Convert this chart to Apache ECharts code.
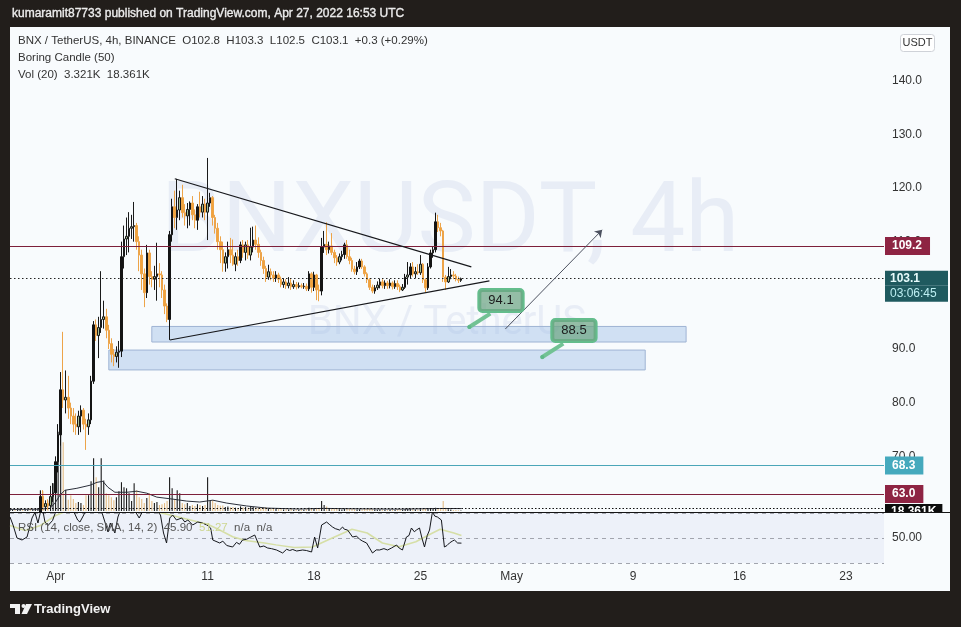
<!DOCTYPE html>
<html><head><meta charset="utf-8">
<script src="https://cdn.jsdelivr.net/npm/echarts/dist/echarts.min.js"></script>
<style>html,body{margin:0;padding:0;background:#221e1b;}#c{width:961px;height:627px;}</style>
</head><body><div id="c"></div>
<script>
// ---- time base: day number, Apr 1 = 1; candles every 4h ----
const firstDay = -2;
const candleStep = 1 / 6;
const tickDays = [1, 11, 18, 25, 31, 39, 46, 53];
const tickLabels = ['Apr', '11', '18', '25', 'May', '9', '16', '23'];
const priceTicks = [70, 80, 90, 100, 110, 120, 130, 140];

const opens = [
56.5,56.8,57.0,56.6,57.1,57.6,57.3,57.9,58.2,57.8,58.3,58.6,
59.0,62.5,60.6,61.2,60.8,62.5,63.2,69.0,74.0,82.4,
80.5,81.0,79.0,77.5,76.0,75.5,77.5,78.6,76.0,75.5,
76.8,84.0,94.5,92.5,94.0,95.5,96.0,93.5,91.0,89.0,
88.6,89.4,89.6,107.2,110.5,111.0,112.5,112.8,113.0,110.0,
107.5,104.0,100.5,107.9,103.5,103.0,103.5,104.0,103.8,101.0,
98.0,95.5,111.3,116.5,114.5,115.9,118.2,115.4,114.8,116.0,
117.2,115.0,114.0,116.5,115.5,117.0,115.5,117.2,118.2,114.5,
112.5,110.0,108.5,106.0,107.2,108.5,107.5,105.8,107.2,106.5,
109.4,108.0,109.4,107.5,109.0,110.3,109.5,108.0,106.5,105.0,
103.4,104.4,103.8,103.2,103.8,103.0,102.0,102.5,101.8,102.3,
101.6,102.0,101.6,101.8,101.6,101.7,101.2,104.0,101.5,103.8,
101.0,100.8,109.0,109.5,108.5,109.2,108.0,107.0,106.2,107.2,
107.6,109.4,107.2,106.5,104.9,104.4,105.3,106.4,105.3,104.0,
102.9,101.5,100.8,101.4,101.9,102.5,101.8,102.3,101.8,102.3,
101.6,102.2,101.6,101.0,101.5,103.4,103.8,105.3,104.0,104.4,
104.2,105.8,102.9,101.4,105.3,107.9,108.5,113.7,112.6,112.0,
103.4,102.5,103.5,103.8,103.6,103.0,102.8];
const highs = [
57.2,57.5,57.6,57.3,58.0,58.2,58.1,58.6,58.8,58.5,59.0,59.2,
63.5,63.7,61.8,62.0,64.5,65.0,70.0,76.0,85.7,93.2,
86.0,85.0,80.0,79.0,78.0,78.5,79.5,79.0,77.0,78.0,
85.0,95.2,95.5,96.0,104.5,99.0,97.5,94.5,92.0,90.0,
90.5,91.5,110.0,113.0,114.5,115.5,115.0,117.4,113.5,111.0,
108.5,105.0,109.4,108.5,104.5,105.5,109.8,106.0,104.5,102.0,
98.5,112.0,118.0,119.5,121.7,119.5,120.6,117.0,117.2,117.5,
118.5,116.0,117.0,119.3,118.5,118.0,125.6,119.1,118.5,115.0,
113.5,111.0,110.0,108.0,110.0,110.7,110.4,108.0,108.5,110.0,
110.3,110.0,110.3,112.6,112.8,113.0,110.8,108.5,107.2,105.5,
105.7,105.0,104.5,104.5,104.2,103.5,103.2,103.0,103.4,103.0,
102.8,102.5,102.4,102.2,102.3,102.2,104.5,104.3,104.4,104.0,
102.0,110.7,112.0,113.6,110.0,111.6,108.5,107.5,107.8,108.3,
109.8,110.3,108.5,107.0,105.5,106.2,106.8,106.8,105.6,104.3,
103.2,102.0,101.9,102.6,103.1,103.0,102.8,102.7,103.0,102.6,
102.8,102.8,102.0,102.1,104.0,106.2,106.0,106.2,105.3,105.8,
107.5,106.0,103.2,106.0,108.5,109.0,115.4,115.0,113.5,112.2,
103.8,105.3,104.9,104.5,104.0,103.5,103.3];
const lows = [
55.8,56.2,56.4,56.0,56.8,57.0,56.9,57.4,57.6,57.2,57.9,58.0,
58.8,60.0,59.9,60.0,60.5,61.5,62.8,67.0,72.0,79.0,
78.0,77.0,76.0,74.5,74.0,74.0,74.5,75.0,71.2,74.0,
76.0,83.5,91.5,88.3,93.0,93.8,92.0,90.0,87.5,86.8,
87.5,86.5,88.5,105.0,107.5,108.0,110.5,110.0,108.5,104.5,
101.0,97.8,99.5,102.0,101.5,101.0,99.0,101.5,99.5,96.5,
95.0,91.7,110.0,112.5,112.2,114.0,114.5,113.0,112.5,113.0,
114.0,112.5,112.2,114.5,114.5,114.0,110.3,116.5,113.0,111.5,
108.5,106.0,104.4,104.4,105.0,106.0,105.5,104.5,105.5,106.0,
107.0,106.5,106.8,106.5,108.0,108.5,107.0,105.5,104.0,102.5,
102.9,102.8,102.5,102.5,102.3,101.5,101.4,101.2,101.3,101.0,
101.2,101.1,101.3,101.3,101.2,100.8,100.8,100.5,100.8,99.1,
98.9,100.0,107.9,107.5,107.8,107.5,106.0,105.5,105.8,106.5,
106.8,106.8,105.8,104.4,103.9,103.8,104.9,104.9,103.5,102.3,
101.0,100.4,100.3,101.0,101.3,101.3,101.2,101.2,101.3,101.1,
101.2,101.0,100.6,100.8,101.2,102.0,103.2,103.5,103.2,103.8,
103.8,102.3,100.6,101.0,105.0,107.0,108.0,111.8,111.0,102.5,
101.0,102.3,103.0,103.0,102.6,102.3,102.5];
const closes = [
56.8,57.0,56.6,57.1,57.6,57.3,57.9,58.2,57.8,58.3,58.6,58.9,
62.5,60.6,61.2,60.8,62.5,63.2,69.0,74.0,82.4,80.5,
81.0,79.0,77.5,76.0,75.5,77.5,78.6,76.0,75.5,76.8,
84.0,94.5,92.5,94.0,95.5,96.0,93.5,91.0,89.0,88.6,
89.4,89.6,107.2,110.5,111.0,112.5,112.8,113.0,110.0,107.5,
104.0,100.5,107.9,103.5,103.0,103.5,104.0,103.8,101.0,98.0,
95.5,111.3,116.5,114.5,115.9,118.2,115.4,114.8,116.0,117.2,
115.0,114.0,116.5,115.5,117.0,115.5,117.2,118.2,114.5,112.5,
110.0,108.5,106.0,107.2,108.5,107.5,105.8,107.2,106.5,109.4,
108.0,109.4,107.5,109.0,110.3,109.5,108.0,106.5,105.0,103.4,
104.4,103.8,103.2,103.8,103.0,102.0,102.5,101.8,102.3,101.6,
102.0,101.6,101.8,101.6,101.7,101.2,104.0,101.5,103.8,101.0,
100.8,109.0,109.5,108.5,109.2,108.0,107.0,106.2,107.2,107.6,
109.4,107.2,106.5,104.9,104.4,105.3,106.4,105.3,104.0,102.9,
101.5,100.8,101.4,101.9,102.5,101.8,102.3,101.8,102.3,101.6,
102.2,101.6,101.0,101.5,103.4,103.8,105.3,104.0,104.4,104.2,
105.8,102.9,101.4,105.3,107.9,108.5,113.7,112.6,112.0,103.4,
102.5,103.5,103.8,103.6,103.0,102.8,103.1];
// volume in thousands
const volumesK = [
12,8,15,10,18,9,14,11,20,13,16,22,
157,150,45,80,100,210,370,600,680,520,
160,85,120,90,60,68,60,45,120,120,
225,400,255,180,400,232,135,120,105,82,
105,150,218,180,172,135,75,210,158,105,
90,60,98,135,75,60,68,45,52,60,
75,255,172,90,158,135,60,52,60,38,
45,38,52,45,38,45,255,75,82,60,
45,40,42,30,35,28,30,25,22,35,
28,30,25,38,30,26,22,25,28,30,
20,18,15,17,14,18,12,14,12,15,
10,12,9,11,10,14,25,20,22,24,
18,75,45,35,20,22,18,15,14,12,
18,16,14,18,12,11,13,12,15,16,
18,14,12,10,11,9,10,8,9,10,
8,11,12,9,15,18,16,12,11,10,
14,16,18,20,22,15,25,20,18,75,
25,14,12,8,7,6,3.321];
// Volume MA(20): [day, K]
const volMA = [[-2,12],[0,14],[0.63,20],[0.96,60],[1.29,120],[1.61,157],[2.4,172],[3.26,195],[3.72,217],[4.11,225],[4.44,180],[4.9,142],[5.69,142],[6.34,150],[7.0,135],[7.66,105],[8.71,90],[9.63,75],[10.48,68],[11.34,82],[12.26,60],[13.57,38],[14.89,22],[17.05,15],[18.6,20],[20.34,17],[23.62,14],[26.25,19],[27.7,18.361]];
// RSI(14): [day, value]
const rsiPts = [[-2.0,66.8],[-1.8,60.4],[-1.54,50],[-1.21,48.4],[-0.88,50.8],[-0.55,66],[-0.36,70.5],[-0.16,62],[0.1,76],[0.3,62.8],[0.5,60],[0.8,64],[1.5,88],[2.2,71],[2.45,64.4],[2.6,62.8],[2.85,68.4],[3.2,80],[3.7,82],[4.1,68.4],[4.45,54.8],[4.6,62],[4.9,54],[5.1,66.8],[5.5,80],[6.1,74],[6.3,70],[6.5,66],[6.75,72],[7.4,76],[7.9,68.4],[8.1,54],[8.3,46],[8.51,66],[8.7,68.4],[8.95,64.4],[9.3,66],[9.5,62.8],[9.7,64.4],[10.02,60.4],[10.35,62.8],[10.65,62],[10.96,60.4],[11.2,58],[11.34,48.4],[11.8,46],[12.0,47.5],[12.26,44],[12.65,42.8],[12.9,46.5],[13.1,45],[13.3,48.4],[13.57,49],[13.8,50.5],[14.1,52.4],[14.43,42.8],[14.7,43.6],[14.95,42],[15.2,41.5],[15.54,40.4],[15.94,38],[16.2,41],[16.4,40],[16.6,40.8],[16.86,39.6],[17.25,40.4],[17.5,40],[17.84,38.8],[18.04,50.8],[18.24,42],[18.5,60.4],[18.83,62.8],[19.0,61],[19.22,58.8],[19.4,57.5],[19.68,56.4],[19.88,58.8],[20.0,57],[20.21,56.4],[20.54,50.8],[20.8,51.5],[21.0,49],[21.2,47.5],[21.46,46],[21.85,38],[22.1,40.5],[22.31,40.4],[22.6,41.5],[22.84,40.4],[23.1,42],[23.43,44.4],[23.6,42],[23.82,40.4],[24.08,50.8],[24.25,52],[24.41,58],[24.6,55],[24.74,56.4],[24.94,58],[25.1,50],[25.27,42.8],[25.45,52],[25.6,56.4],[25.79,70.8],[25.95,67.5],[26.12,66.8],[26.38,64.4],[26.58,42.8],[26.75,44],[26.91,46],[27.1,47.5],[27.24,48.4],[27.45,46],[27.7,45.9]];
const rsiSma = [[-2,60],[-1,56],[0,60],[1,68],[2,73],[3,74],[4,73],[5,71],[6,71],[7,72],[8,70],[9,67],[10,64],[11,61],[11.7,57],[12.65,51],[13.5,48],[14.75,46],[15.5,44.5],[16.7,42.4],[17.9,42.8],[19.2,50],[20.5,57],[21.5,54],[22.5,46],[23.6,43],[24.7,47],[25.8,54],[26.3,57],[26.9,55],[27.2,54],[27.7,52]];

// drawings (day, price)
const levels = {resist: 109.2, last: 103.1, sup1: 68.3, sup2: 63.0, volMA: 18.361};
const triUpper = [[8.84, 121.72], [28.35, 105.30]];
const triLower = [[8.51, 91.68], [29.54, 102.69]];
const arrowPts = [[30.59, 93.73], [36.96, 112.2]];
const zone1 = [[7.33, 94.2], [42.48, 91.3]];
const zone2 = [[4.50, 89.8], [39.79, 86.1]];
const callouts = [
  {label: '94.1', at: [28.22, 94.1], tail: [29.6, 96.6]},
  {label: '88.5', at: [33.02, 88.5], tail: [34.4, 91.0]}
];

const FONT = '"Liberation Sans", Arial, sans-serif';
const BG = '#f8fbfd';

const candleData = opens.map((o, k) => {
  const c = closes[k], h = highs[k], l = lows[k];
  const item = {value: [firstDay + k * candleStep, o, c, l, h]};
  if (c > o && (c - o) <= 0.5 * (h - l)) {
    item.itemStyle = {color: '#a5bf95', borderColor: '#1a1a1a'};
  }
  return item;
});
const volData = volumesK.map((v, k) => ({
  value: [firstDay + k * candleStep, v],
  itemStyle: {color: closes[k] >= opens[k] ? '#1b1b1b' : '#e5bd86'}
}));

const tagLabel = (txt, bg) => ({
  show: true, position: 'end', distance: 1, formatter: txt,
  backgroundColor: bg, color: '#ffffff', fontWeight: 'bold', fontSize: 12,
  fontFamily: FONT, padding: [3, 8, 2, 7], lineHeight: 13
});
const trendStyle = {color: '#17181c', width: 1.2, type: 'solid'};
const arrowStyle = {color: '#4d5260', width: 1, type: 'solid'};
const tailStyle = {color: '#72c294', width: 4, type: 'solid', cap: 'butt'};
const calloutFill = 'rgba(110,165,132,0.72)';

const xBase = {
  type: 'value', min: -2, max: 55.5, interval: 1,
  axisLine: {show: false}, axisTick: {show: false}, splitLine: {show: false}
};

const option = {
  animation: false,
  backgroundColor: '#221e1b',
  textStyle: {fontFamily: FONT},
  grid: [
    {left: 10, right: 77, top: 27, height: 483, outerBoundsMode: 'none'},
    {left: 10, right: 77, top: 412, height: 99, outerBoundsMode: 'none'},
    {left: 10, right: 77, top: 513, height: 50, outerBoundsMode: 'none'}
  ],
  xAxis: [
    Object.assign({}, xBase, {gridIndex: 0, axisLabel: {show: false}}),
    Object.assign({}, xBase, {gridIndex: 1, axisLabel: {show: false}}),
    Object.assign({}, xBase, {gridIndex: 2, z: 21, axisLabel: {
      show: true, color: '#333', fontSize: 12, margin: 8, hideOverlap: false,
      showMinLabel: true, showMaxLabel: true,
      formatter: (v) => {
        const d = Math.round(v);
        if (Math.abs(v - d) > 1e-6) return '';
        const i = tickDays.indexOf(d);
        return i >= 0 ? tickLabels[i] : '';
      }
    }})
  ],
  yAxis: [
    {gridIndex: 0, type: 'value', position: 'right', min: 60, max: 150, interval: 10,
     axisLine: {show: false}, axisTick: {show: false}, splitLine: {show: false},
     axisLabel: {color: '#333', fontSize: 12, margin: 8, hideOverlap: false,
       formatter: (v) => priceTicks.indexOf(Math.round(v)) >= 0 && Math.abs(v - Math.round(v)) < 1e-6 ? v.toFixed(1) : ''}},
    {gridIndex: 1, type: 'value', min: 0, max: 750, show: false,
     axisLine: {show: false}, axisTick: {show: false}, splitLine: {show: false}, axisLabel: {show: false}},
    {gridIndex: 2, type: 'value', position: 'right', min: 30, max: 70, interval: 10, z: 21,
     axisLine: {show: false}, axisTick: {show: false}, splitLine: {show: false},
     axisLabel: {color: '#333', fontSize: 12, margin: 8, hideOverlap: false,
       formatter: (v) => Math.abs(v - 50) < 1e-6 ? '50.00' : ''}}
  ],
  series: [
    {
      type: 'candlestick', name: 'BNX', xAxisIndex: 0, yAxisIndex: 0, z: 3, clip: true,
      barWidth: 2,
      encode: {x: 0, y: [1, 2, 3, 4]},
      itemStyle: {color: '#141414', color0: '#f2a33b', borderColor: '#141414', borderColor0: '#eda449', borderWidth: 1},
      data: candleData,
      markArea: {
        silent: true, z: 1,
        itemStyle: {color: 'rgba(160,190,230,0.45)', borderColor: '#9fb4d4', borderWidth: 1},
        data: [
          [{coord: zone1[0]}, {coord: zone1[1]}],
          [{coord: zone2[0]}, {coord: zone2[1]}]
        ]
      },
      markLine: {
        silent: true, symbol: 'none', label: {show: false}, z: 5,
        data: [
          {yAxis: levels.resist, lineStyle: {color: '#7d1f3a', width: 1, type: 'solid'}, label: tagLabel('109.2', '#8e2443')},
          {yAxis: levels.last, lineStyle: {color: '#222', width: 1, type: [1.5, 2.5]},
           label: {show: true, position: 'end', distance: 1,
             formatter: '{s| }\n{a|103.1}\n{b|03:06:45}',
             rich: {
               s: {height: 15, lineHeight: 15, width: 54, fontSize: 1, color: 'rgba(0,0,0,0)'},
               a: {backgroundColor: '#1f5a5f', color: '#e6fafa', fontWeight: 'bold', fontSize: 12, height: 15, lineHeight: 15, width: 54, padding: [0, 4, 0, 5], fontFamily: FONT},
               b: {backgroundColor: '#1f5a5f', color: '#bdeff2', fontSize: 12, height: 16, lineHeight: 16, width: 54, padding: [0, 4, 0, 5], fontFamily: FONT}
             }}},
          {yAxis: levels.sup1, lineStyle: {color: '#4ba6b8', width: 1, type: 'solid'}, label: tagLabel('68.3', '#45a9bd')},
          {yAxis: levels.sup2, lineStyle: {color: '#7d1f3a', width: 1, type: 'solid'}, label: tagLabel('63.0', '#8e2443')},
          [{coord: triUpper[0], lineStyle: trendStyle}, {coord: triUpper[1], lineStyle: trendStyle}],
          [{coord: triLower[0], lineStyle: trendStyle}, {coord: triLower[1], lineStyle: trendStyle}],
          [{coord: arrowPts[0], symbol: 'none', lineStyle: arrowStyle},
           {coord: arrowPts[1], symbol: 'arrow', symbolSize: 7, lineStyle: arrowStyle}],
          ...callouts.map(c => [
            {coord: c.at, symbol: 'circle', symbolSize: 4, lineStyle: tailStyle},
            {coord: c.tail, symbol: 'none', lineStyle: tailStyle}
          ])
        ]
      },
      markPoint: {
        silent: true, z: 6,
        data: callouts.map(c => ({
          coord: c.at, symbol: 'circle', symbolSize: 4, itemStyle: {color: '#5fb88a'},
          label: {show: true, position: [12, -35], formatter: c.label, color: '#1b1b1b', fontSize: 13,
            backgroundColor: calloutFill, borderColor: '#64bd8c', borderWidth: 2, borderRadius: 3,
            padding: [4, 9, 4, 9], fontFamily: FONT}
        }))
      }
    },
    {
      type: 'bar', name: 'Vol', xAxisIndex: 1, yAxisIndex: 1, z: 2, barWidth: 1.1,
      data: volData,
      markLine: {
        silent: true, symbol: 'none', z: 5,
        data: [{yAxis: levels.volMA, lineStyle: {color: '#111', width: 1, type: [1.5, 2]},
          label: {show: true, position: 'end', distance: 1,
            formatter: '{s| }\n{a|18.361K}',
            rich: {
              s: {height: 7, lineHeight: 7, fontSize: 1, color: 'rgba(0,0,0,0)'},
              a: {backgroundColor: '#0d0d0d', color: '#fff', fontWeight: 'bold', fontSize: 12, height: 16, lineHeight: 16, padding: [0, 6, 0, 6], fontFamily: FONT}
            }}}]
      }
    },
    {
      type: 'line', name: 'VolMA', xAxisIndex: 1, yAxisIndex: 1, z: 2, symbol: 'none',
      lineStyle: {color: '#2a2e39', width: 1}, data: volMA
    },
    {
      type: 'line', name: 'RSI-MA', xAxisIndex: 2, yAxisIndex: 2, z: 20, symbol: 'none', clip: true,
      lineStyle: {color: '#d6dfa6', width: 1.5}, data: rsiSma,
      markArea: {silent: true, z: 16, itemStyle: {color: 'rgba(120,123,205,0.08)'}, data: [[{yAxis: 30}, {yAxis: 70}]]},
      markLine: {silent: true, symbol: 'none', z: 17, label: {show: false},
        lineStyle: {color: '#a2a5ae', width: 1, type: [4, 4]},
        data: [{yAxis: 70}, {yAxis: 50}, {yAxis: 30}]}
    },
    {
      type: 'line', name: 'RSI', xAxisIndex: 2, yAxisIndex: 2, z: 21, symbol: 'none', clip: true,
      lineStyle: {color: '#15171c', width: 1}, data: rsiPts
    }
  ],
  graphic: [
    {type: 'rect', z: -10, shape: {x: 10, y: 27, width: 940, height: 564}, style: {fill: BG}},
    {type: 'text', z: -5, x: 450, y: 226, style: {text: 'BNXUSDT, 4h', fontSize: 98, fontFamily: 'Roboto, sans-serif',
      fill: '#e8edf6', align: 'center', verticalAlign: 'middle', textAlign: 'center', textVerticalAlign: 'middle'}},
    {type: 'text', z: -5, x: 447, y: 324, style: {text: 'BNX / TetherUS', fontSize: 40, fontFamily: 'Roboto, sans-serif',
      fill: '#e8edf6', align: 'center', verticalAlign: 'middle', textAlign: 'center', textVerticalAlign: 'middle'}},
    {type: 'text', z: 30, x: 12, y: 14, style: {text: 'kumaramit87733 published on TradingView.com, Apr 27, 2022 16:53 UTC',
      fontSize: 12, fontFamily: FONT, fill: '#ececec', stroke: '#ececec', lineWidth: 0.35,
      verticalAlign: 'middle', textVerticalAlign: 'middle'}},
    {type: 'text', z: 30, x: 18, y: 41, style: {text: 'BNX / TetherUS, 4h, BINANCE  O102.8  H103.3  L102.5  C103.1  +0.3 (+0.29%)',
      fontSize: 11.5, fontFamily: FONT, fill: '#333', verticalAlign: 'middle', textVerticalAlign: 'middle'}},
    {type: 'text', z: 30, x: 18, y: 58, style: {text: 'Boring Candle (50)',
      fontSize: 11.5, fontFamily: FONT, fill: '#333', verticalAlign: 'middle', textVerticalAlign: 'middle'}},
    {type: 'text', z: 30, x: 18, y: 75, style: {text: 'Vol (20)  3.321K  18.361K',
      fontSize: 11.5, fontFamily: FONT, fill: '#333', verticalAlign: 'middle', textVerticalAlign: 'middle'}},
    {type: 'rect', z: 30, shape: {x: 900.5, y: 34.5, width: 34, height: 17, r: 3}, style: {fill: '#fff', stroke: '#cfd2d8', lineWidth: 1}},
    {type: 'text', z: 31, x: 917.5, y: 43, style: {text: 'USDT', fontSize: 11, fontFamily: FONT, fill: '#333',
      align: 'center', verticalAlign: 'middle', textAlign: 'center', textVerticalAlign: 'middle'}},
    {type: 'rect', z: 15, shape: {x: 10, y: 512, width: 940, height: 56}, style: {fill: BG}},
    {type: 'line', z: 30, shape: {x1: 10, y1: 512.5, x2: 950, y2: 512.5}, style: {stroke: '#151515', lineWidth: 1}},
    {type: 'text', z: 25, x: 18, y: 528, style: {
      text: '{a|RSI (14, close, SMA, 14, 2)}  {a|45.90}  {b|51.27}  {a|n/a}  {a|n/a}',
      rich: {a: {fontSize: 11.5, fontFamily: FONT, fill: '#555', color: '#555'}, b: {fontSize: 11.5, fontFamily: FONT, fill: '#cdd690', color: '#cdd690'}},
      fontSize: 11.5, fontFamily: FONT, fill: '#555', verticalAlign: 'middle', textVerticalAlign: 'middle'}},
    {type: 'rect', z: 30, shape: {x: 10, y: 604, width: 10, height: 4}, style: {fill: '#f2f2f2'}},
    {type: 'rect', z: 30, shape: {x: 15, y: 604, width: 5, height: 10}, style: {fill: '#f2f2f2'}},
    {type: 'circle', z: 30, shape: {cx: 23.5, cy: 606, r: 2}, style: {fill: '#f2f2f2'}},
    {type: 'polygon', z: 30, shape: {points: [[26, 604], [32, 604], [27, 614], [21.5, 614]]}, style: {fill: '#f2f2f2'}},
    {type: 'text', z: 30, x: 34, y: 609.5, style: {text: 'TradingView', fontSize: 13, fontWeight: 'bold', fontFamily: FONT,
      fill: '#f2f2f2', verticalAlign: 'middle', textVerticalAlign: 'middle'}}
  ]
};

const chart = echarts.init(document.getElementById('c'), null, {renderer: 'canvas', width: 961, height: 627});
chart.setOption(option);
</script>
</body></html>
